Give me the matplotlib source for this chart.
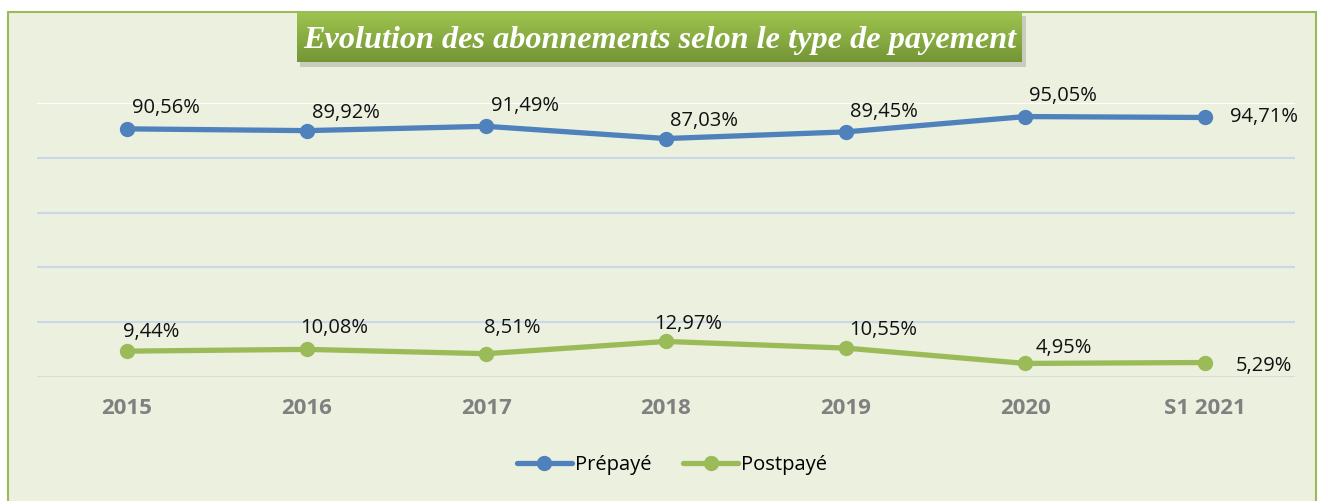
import matplotlib
matplotlib.use("Agg")
import matplotlib.pyplot as plt
from matplotlib.patches import Rectangle
import numpy as np

categories = ["2015", "2016", "2017", "2018", "2019", "2020", "S1 2021"]
prepaye = [90.56, 89.92, 91.49, 87.03, 89.45, 95.05, 94.71]
postpaye = [9.44, 10.08, 8.51, 12.97, 10.55, 4.95, 5.29]
series_names = ["Prépayé", "Postpayé"]
title = "Evolution des abonnements selon le type de payement"

# label offsets in pixels (layout only)
pre_off = [(39, 21), (39, 18), (39, 20), (38, 18), (38, 20), (38, 21), (59, 0)]
post_off = [(24, 19), (28, 21), (26, 26), (22, 17), (37, 18), (38, 15), (59, -3)]

W, H = 1324, 501
fig = plt.figure(figsize=(W / 100, H / 100), dpi=100)
fig.patch.set_facecolor("white")

def fx(x):
    return x / W

def fy(y):
    return 1 - y / H

bg = "#EBF0DF"
fig.patches.append(Rectangle((fx(8), fy(520)), fx(1316 - 8), (520 - 12) / H,
                             transform=fig.transFigure, facecolor=bg,
                             edgecolor="#9BBB59", linewidth=1.5, zorder=-5))

ax = fig.add_axes([fx(37), fy(377), fx(1295 - 37), (377 - 103) / H])
ax.set_facecolor("none")
x = np.arange(len(categories))
blue = "#4F81BD"
green = "#9BBB59"
ax.plot(x, prepaye, color=blue, lw=3.8, marker="o", ms=10, label=series_names[0],
        solid_capstyle="round", zorder=3)
ax.plot(x, postpaye, color=green, lw=3.8, marker="o", ms=10, label=series_names[1],
        solid_capstyle="round", zorder=3)
ax.set_xlim(-0.5, len(categories) - 0.5)
ax.set_ylim(0, 100)
ax.set_yticks([0, 20, 40, 60, 80, 100])
ax.yaxis.set_visible(False)
for s in ax.spines.values():
    s.set_visible(False)
for v in [20, 40, 60, 80]:
    ax.axhline(v, color="#C9D7E6", lw=1.5, zorder=1)
ax.axhline(100, color="#FFFFFF", lw=1.5, zorder=1)
ax.axhline(0, color="#D2D6D6", lw=1.8, zorder=1)
ax.set_xticks(x)
ax.set_xticklabels(categories, fontsize=16, fontweight="bold", color="#808080",
                   fontfamily="Open Sans")
ax.tick_params(axis="x", length=0, pad=15)

pt = 0.72
def fmt(v):
    return f"{v:.2f}%".replace(".", ",")

for i, v in enumerate(prepaye):
    dx, dy = pre_off[i]
    ax.annotate(fmt(v), (x[i], v), xytext=(dx * pt, dy * pt), textcoords="offset points",
                ha="center", va="center", fontsize=14.5, color="#111111", fontfamily="Open Sans")
for i, v in enumerate(postpaye):
    dx, dy = post_off[i]
    ax.annotate(fmt(v), (x[i], v), xytext=(dx * pt, dy * pt), textcoords="offset points",
                ha="center", va="center", fontsize=14.5, color="#111111", fontfamily="Open Sans")

leg = fig.legend(loc="center", bbox_to_anchor=(fx(672), fy(465)), ncol=2, frameon=False,
                 prop={"family": "Open Sans", "size": 14.5}, handlelength=2.7,
                 columnspacing=1.6, handletextpad=0.15)

# title box with shadow & gradient
shadow = fig.add_axes([fx(300), fy(67), fx(1026 - 300), (67 - 16) / H])
shadow.axis("off")
shadow.add_patch(Rectangle((0, 0), 1, 1, transform=shadow.transAxes, facecolor="#B9BDB0",
                           edgecolor="none", alpha=0.7))
tax = fig.add_axes([fx(297), fy(62), fx(1022 - 297), (62 - 13) / H])
grad = np.linspace(0, 1, 100)[:, None]
top = np.array([0x9E, 0xC3, 0x4E]) / 255
bot = np.array([0x74, 0x95, 0x36]) / 255
img = top[None, None, :] * (1 - grad[:, :, None]) + bot[None, None, :] * grad[:, :, None]
img = np.repeat(img, 2, axis=1)
tax.imshow(img, aspect="auto", extent=(0, 1, 0, 1))
tax.set_xlim(0, 1)
tax.set_ylim(0, 1)
tax.axis("off")
tax.text(0.5, 0.44, title, ha="center", va="center", color="white", fontsize=23.2,
         fontweight="bold", fontstyle="italic", fontfamily="Liberation Serif",
         transform=tax.transAxes)

fig.savefig("out.png", dpi=100, facecolor=fig.get_facecolor())
